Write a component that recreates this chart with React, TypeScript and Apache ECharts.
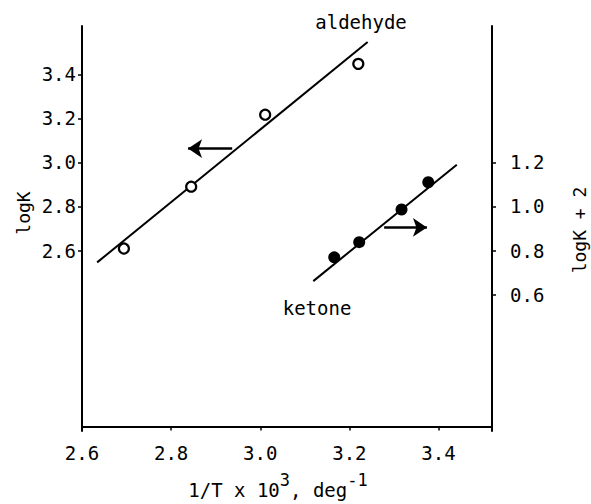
import React, { useEffect, useRef } from "react";
import * as echarts from "echarts";

const xTicks = [2.6, 2.8, 3.0, 3.2, 3.4];
const leftTicks = [2.6, 2.8, 3.0, 3.2, 3.4];
const rightTicks = [0.6, 0.8, 1.0, 1.2];

const aldehydeX = [2.694, 2.845, 3.011, 3.22];
const aldehydeY = [2.609, 2.89, 3.217, 3.448];
const aldehydeFitX = [2.634, 3.241];
const aldehydeFitY = [2.546, 3.547];

const ketoneX = [3.166, 3.222, 3.317, 3.377];
const ketoneY = [0.769, 0.838, 0.986, 1.11];
const ketoneFitX = [3.119, 3.441];
const ketoneFitY = [0.661, 1.19];

const leftArrowX = [2.937, 2.838];
const leftArrowY = [3.063, 3.063];
const rightArrowX = [3.278, 3.374];
const rightArrowY = [0.905, 0.905];

const FONT = "DejaVu Sans Mono";

export default function App() {
  const ref = useRef<HTMLDivElement>(null);
  useEffect(() => {
    if (!ref.current) return;
    const chart = echarts.init(ref.current, null, { renderer: "svg" });
    const zip = (xs: number[], ys: number[]) => xs.map((x, i) => [x, ys[i]]);
    const axisCommon = {
      axisLine: { show: true, lineStyle: { color: "#000", width: 2 } },
      splitLine: { show: false },
    };
    chart.setOption({
      animation: false,
      backgroundColor: "#fff",
      grid: { left: 82, right: 99, top: 26, bottom: 72 },
      xAxis: {
        type: "value",
        min: 2.6,
        max: 3.52,
        ...axisCommon,
        axisTick: { show: true, customValues: xTicks, length: 4, lineStyle: { color: "#000", width: 1.5 } },
        axisLabel: {
          customValues: xTicks,
          formatter: (v: number) => v.toFixed(1),
          fontFamily: FONT,
          fontSize: 19,
          color: "#000",
          margin: 12,
        },
        name: "{b|1/T x 10}{s|3}{b|, deg}{s|-1}",
        nameLocation: "middle",
        nameGap: 40,
        nameTextStyle: {
          fontFamily: FONT,
          color: "#000",
          padding: [0, 18, 0, 0],
          rich: {
            b: { fontFamily: FONT, fontSize: 19, color: "#000", lineHeight: 28, verticalAlign: "bottom" },
            s: { fontFamily: FONT, fontSize: 17, color: "#000", lineHeight: 28, verticalAlign: "top" },
          },
        },
      },
      yAxis: [
        {
          type: "value",
          min: 1.78,
          max: 3.62,
          position: "left",
          ...axisCommon,
          axisTick: { show: true, customValues: leftTicks, length: 4, lineStyle: { color: "#000", width: 1.5 } },
          axisLabel: {
            customValues: leftTicks,
            formatter: (v: number) => v.toFixed(1),
            fontFamily: FONT,
            fontSize: 19,
            color: "#000",
            margin: 6,
          },
        },
        {
          type: "value",
          min: -0.02,
          max: 1.82,
          position: "right",
          ...axisCommon,
          axisTick: { show: true, customValues: rightTicks, length: 4, lineStyle: { color: "#000", width: 1.5 } },
          axisLabel: {
            customValues: rightTicks,
            formatter: (v: number) => v.toFixed(1),
            fontFamily: FONT,
            fontSize: 19,
            color: "#000",
            margin: 18,
          },
        },
      ],
      graphic: [
        {
          type: "text",
          x: 23,
          y: 213,
          rotation: Math.PI / 2,
          style: { text: "logK", fontFamily: FONT, fontSize: 18, fill: "#000", align: "center", verticalAlign: "middle" },
        },
        {
          type: "text",
          x: 579,
          y: 230,
          rotation: Math.PI / 2,
          style: { text: "logK + 2", fontFamily: FONT, fontSize: 18, fill: "#000", align: "center", verticalAlign: "middle" },
        },
        {
          type: "text",
          x: 361,
          y: 22,
          style: { text: "aldehyde", fontFamily: FONT, fontSize: 19, fill: "#000", align: "center", verticalAlign: "middle" },
        },
        {
          type: "text",
          x: 317,
          y: 308,
          style: { text: "ketone", fontFamily: FONT, fontSize: 19, fill: "#000", align: "center", verticalAlign: "middle" },
        },
      ],
      series: [
        {
          name: "aldehyde fit",
          type: "line",
          data: zip(aldehydeFitX, aldehydeFitY),
          symbol: "none",
          lineStyle: { color: "#000", width: 2 },
          z: 2,
        },
        {
          name: "aldehyde",
          type: "scatter",
          data: zip(aldehydeX, aldehydeY),
          symbol: "circle",
          symbolSize: 10,
          itemStyle: { color: "#fff", borderColor: "#000", borderWidth: 2.2, opacity: 1 },
          z: 3,
        },
        {
          name: "ketone fit",
          type: "line",
          yAxisIndex: 1,
          data: zip(ketoneFitX, ketoneFitY),
          symbol: "none",
          lineStyle: { color: "#000", width: 2 },
          z: 2,
        },
        {
          name: "ketone",
          type: "scatter",
          yAxisIndex: 1,
          data: zip(ketoneX, ketoneY),
          symbol: "circle",
          symbolSize: 12,
          itemStyle: { color: "#000", opacity: 1 },
          z: 3,
        },
        {
          name: "arrows left",
          type: "lines",
          coordinateSystem: "cartesian2d",
          xAxisIndex: 0,
          yAxisIndex: 0,
          symbol: ["none", "arrow"],
          symbolSize: 14,
          lineStyle: { color: "#000", width: 2.5, opacity: 1 },
          data: [{ coords: zip(leftArrowX, leftArrowY) }],
        },
        {
          name: "arrows right",
          type: "lines",
          coordinateSystem: "cartesian2d",
          xAxisIndex: 0,
          yAxisIndex: 1,
          symbol: ["none", "arrow"],
          symbolSize: 14,
          lineStyle: { color: "#000", width: 2.5, opacity: 1 },
          data: [{ coords: zip(rightArrowX, rightArrowY) }],
        },
      ],
    });
    return () => chart.dispose();
  }, []);
  return <div ref={ref} style={{ width: 591, height: 504, position: "fixed", left: 0, top: 0 }} />;
}
